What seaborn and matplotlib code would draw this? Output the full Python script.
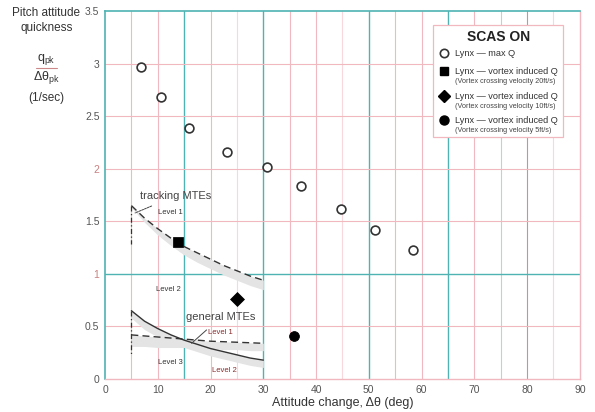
import numpy as np
import pandas as pd
import matplotlib
matplotlib.use("Agg")
import matplotlib.pyplot as plt
import seaborn as sns
from matplotlib.lines import Line2D
from matplotlib.patches import Rectangle

# ---- data ----
maxq_x = [6.8, 10.6, 16.0, 23.1, 30.7, 37.2, 44.8, 51.2, 58.4]
maxq_y = [2.97, 2.68, 2.39, 2.16, 2.02, 1.84, 1.62, 1.42, 1.23]
v20_x = [13.8]
v20_y = [1.30]
v10_x = [25.1]
v10_y = [0.76]
v5_x = [35.9]
v5_y = [0.41]

bnd_x = [5, 7.5, 10, 12.5, 15, 17.5, 20, 22.5, 25, 27.5, 30]
track_l1 = [1.65, 1.53, 1.43, 1.34, 1.26, 1.20, 1.14, 1.08, 1.03, 0.98, 0.94]
track_band = [1.63, 1.49, 1.37, 1.27, 1.18, 1.11, 1.05, 0.99, 0.94, 0.89, 0.85]
gen_l1 = [0.42, 0.41, 0.40, 0.39, 0.38, 0.37, 0.36, 0.355, 0.35, 0.345, 0.34]
gen_l1_band = [0.31, 0.31, 0.30, 0.30, 0.30, 0.29, 0.29, 0.28, 0.28, 0.27, 0.27]
gen_l2 = [0.65, 0.55, 0.48, 0.42, 0.37, 0.33, 0.29, 0.26, 0.23, 0.20, 0.18]
gen_l2_band = [0.58, 0.47, 0.40, 0.34, 0.30, 0.26, 0.22, 0.19, 0.16, 0.13, 0.11]

xticks = [0, 10, 20, 30, 40, 50, 60, 70, 80, 90]
yticks = [0, 0.5, 1, 1.5, 2, 2.5, 3, 3.5]
ytick_labels = ["0", "0.5", "1", "1.5", "2", "2.5", "3", "3.5"]

legend_title = "SCAS ON"
legend_labels = ["Lynx — max Q", "Lynx — vortex induced Q", "Lynx — vortex induced Q",
                 "Lynx — vortex induced Q"]
legend_subs = [None, "(Vortex crossing velocity 20ft/s)", "(Vortex crossing velocity 10ft/s)",
               "(Vortex crossing velocity 5ft/s)"]

sns.set_theme(style="white")
plt.rcParams['font.family'] = ['Liberation Sans', 'DejaVu Sans']

fig = plt.figure(figsize=(5.95, 4.12), dpi=100)
ax = fig.add_axes([0.1765, 0.080, 0.798, 0.893])
ax.set_xlim(0, 90)
ax.set_ylim(0, 3.5)

teal = "#4fb3b3"
pink = "#f2b8bf"
lpink = "#f8d8dc"

# grid
for xv in range(5, 90, 5):
    if xv in (15, 30, 50, 65):
        c, lw = teal, 1.0
    elif xv == 75:
        c, lw = "#b9d4d4", 0.8
    elif xv == 80:
        c, lw = "#b89a9a", 0.8
    elif xv % 10 == 0 or xv in (5, 35, 55):
        c, lw = pink, 0.8
    else:
        c, lw = lpink, 0.8
    ax.axvline(xv, color=c, lw=lw, zorder=0)
for yv in [0.5, 1.5, 2.0, 2.5, 3.0]:
    ax.axhline(yv, color=pink, lw=0.8, zorder=0)
ax.axhline(1.0, color=teal, lw=1.0, zorder=0)

for side in ["left", "top"]:
    ax.spines[side].set_color(teal)
    ax.spines[side].set_linewidth(1.2)
for side in ["right", "bottom"]:
    ax.spines[side].set_color(pink)
    ax.spines[side].set_linewidth(1.0)

# boundaries
bd = pd.DataFrame({"x": bnd_x, "track": track_l1, "gen1": gen_l1, "gen2": gen_l2})
ax.fill_between(bnd_x, track_band, track_l1, color="#e4e4e4", lw=0, zorder=1)
ax.fill_between(bnd_x, gen_l1_band, gen_l1, color="#e4e4e4", lw=0, zorder=1)
ax.fill_between(bnd_x, gen_l2_band, gen_l2, color="#e4e4e4", lw=0, zorder=1)
sns.lineplot(data=bd, x="x", y="track", ax=ax, color="#333333", lw=1.0,
             linestyle=(0, (5, 3)), zorder=3)
sns.lineplot(data=bd, x="x", y="gen1", ax=ax, color="#333333", lw=1.0,
             linestyle=(0, (5, 3)), zorder=3)
sns.lineplot(data=bd, x="x", y="gen2", ax=ax, color="#333333", lw=1.0, zorder=3)
ax.plot([5, 5], [track_l1[0], 1.28], color="#333333", lw=0.9,
        linestyle=(0, (4, 2, 1, 2)), zorder=3)
ax.plot([5, 5], [gen_l2[0], 0.22], color="#333333", lw=0.9,
        linestyle=(0, (4, 2, 1, 2)), zorder=3)

# data points
pts = pd.DataFrame({
    "x": maxq_x + v20_x + v10_x + v5_x,
    "y": maxq_y + v20_y + v10_y + v5_y,
    "g": ["max"] * len(maxq_x) + ["v20"] + ["v10"] + ["v5"],
})
sns.scatterplot(data=pts[pts.g == "max"], x="x", y="y", ax=ax, marker="o", s=40,
                facecolor="white", edgecolor="#333333", linewidth=1.2, zorder=4)
sns.scatterplot(data=pts[pts.g == "v20"], x="x", y="y", ax=ax, marker="s", s=45,
                color="black", edgecolor="black", zorder=4)
sns.scatterplot(data=pts[pts.g == "v10"], x="x", y="y", ax=ax, marker="D", s=50,
                color="black", edgecolor="black", zorder=4)
sns.scatterplot(data=pts[pts.g == "v5"], x="x", y="y", ax=ax, marker="o", s=50,
                color="black", edgecolor="black", zorder=4)

# annotations
ax.annotate("tracking MTEs", xy=(5.7, 1.58), xytext=(13.3, 1.74), fontsize=8,
            color="#444444", ha="center", va="center",
            arrowprops=dict(arrowstyle="-", color="#444444", lw=0.7,
                            linestyle=(0, (2, 1)), shrinkB=0, shrinkA=3))
ax.annotate("general MTEs", xy=(16.4, 0.34), xytext=(22.0, 0.59), fontsize=8,
            color="#444444", ha="center", va="center",
            arrowprops=dict(arrowstyle="-", color="#444444", lw=0.7, shrinkB=0, shrinkA=5))
ax.text(12.3, 1.58, "Level 1", fontsize=5.5, color="#333333", ha="center", va="center")
ax.text(12.0, 0.85, "Level 2", fontsize=5.5, color="#333333", ha="center", va="center")
ax.text(21.8, 0.44, "Level 1", fontsize=5.5, color="#8a2a2a", ha="center", va="center")
ax.text(12.3, 0.16, "Level 3", fontsize=5.5, color="#333333", ha="center", va="center")
ax.text(22.6, 0.08, "Level 2", fontsize=5.5, color="#8a2a2a", ha="center", va="center")

# ticks
ax.set_xticks(xticks)
ax.set_xticklabels([str(v) for v in xticks], fontsize=7.5, color="#555555")
ax.set_yticks(yticks)
ax.set_yticklabels(ytick_labels, fontsize=7.5, color="#555555")
for lbl in ax.get_yticklabels():
    if lbl.get_text() in ("1", "2"):
        lbl.set_color("#c98080")
ax.tick_params(axis="both", length=0, pad=4)
ax.set_xlabel("Attitude change, Δθ (deg)", fontsize=9, color="#333333", labelpad=2)
ax.set_ylabel("")

# y label block
fig.text(0.078, 0.982, "Pitch attitude\nquickness", ha="center", va="top",
         fontsize=8.5, color="#333333", linespacing=1.25)
fig.text(0.078, 0.856, r"$\mathregular{q_{pk}}$", ha="center", va="center",
         fontsize=9, color="#333333")
fig.add_artist(Line2D([0.061, 0.095], [0.836, 0.836], color="#cc8888", lw=0.8,
                      transform=fig.transFigure))
fig.text(0.078, 0.812, r"$\mathregular{\Delta\theta_{pk}}$", ha="center", va="center",
         fontsize=9, color="#333333")
fig.text(0.078, 0.762, "(1/sec)", ha="center", va="center", fontsize=8.5,
         color="#333333")

# legend (drawn as a box in axes coordinates)
ax.add_patch(Rectangle((0.691, 0.658), 0.273, 0.304, transform=ax.transAxes,
                       facecolor="white", edgecolor=pink, lw=0.9, zorder=6))
ax.text(0.828, 0.930, legend_title, transform=ax.transAxes, ha="center", va="center",
        fontsize=10, fontweight="bold", color="#222222", zorder=7)
entry_y = [0.885, 0.836, 0.768, 0.704]
sub_y = [None, 0.809, 0.741, 0.676]
handle_styles = [
    dict(marker="o", markerfacecolor="white", markeredgecolor="#333333",
         markersize=6, markeredgewidth=1.2),
    dict(marker="s", color="black", markersize=6),
    dict(marker="D", color="black", markersize=6),
    dict(marker="o", color="black", markersize=6.5),
]
for yy, sy, lab, sub, hs in zip(entry_y, sub_y, legend_labels, legend_subs, handle_styles):
    ax.add_artist(Line2D([0.714], [yy], ls="", transform=ax.transAxes, zorder=7, **hs))
    ax.text(0.737, yy, lab, transform=ax.transAxes, ha="left", va="center",
            fontsize=6.6, color="#333333", zorder=7)
    if sub:
        ax.text(0.738, sy, sub, transform=ax.transAxes, ha="left", va="center",
                fontsize=5.2, color="#444444", zorder=7)

fig.savefig("out.png", dpi=100)
